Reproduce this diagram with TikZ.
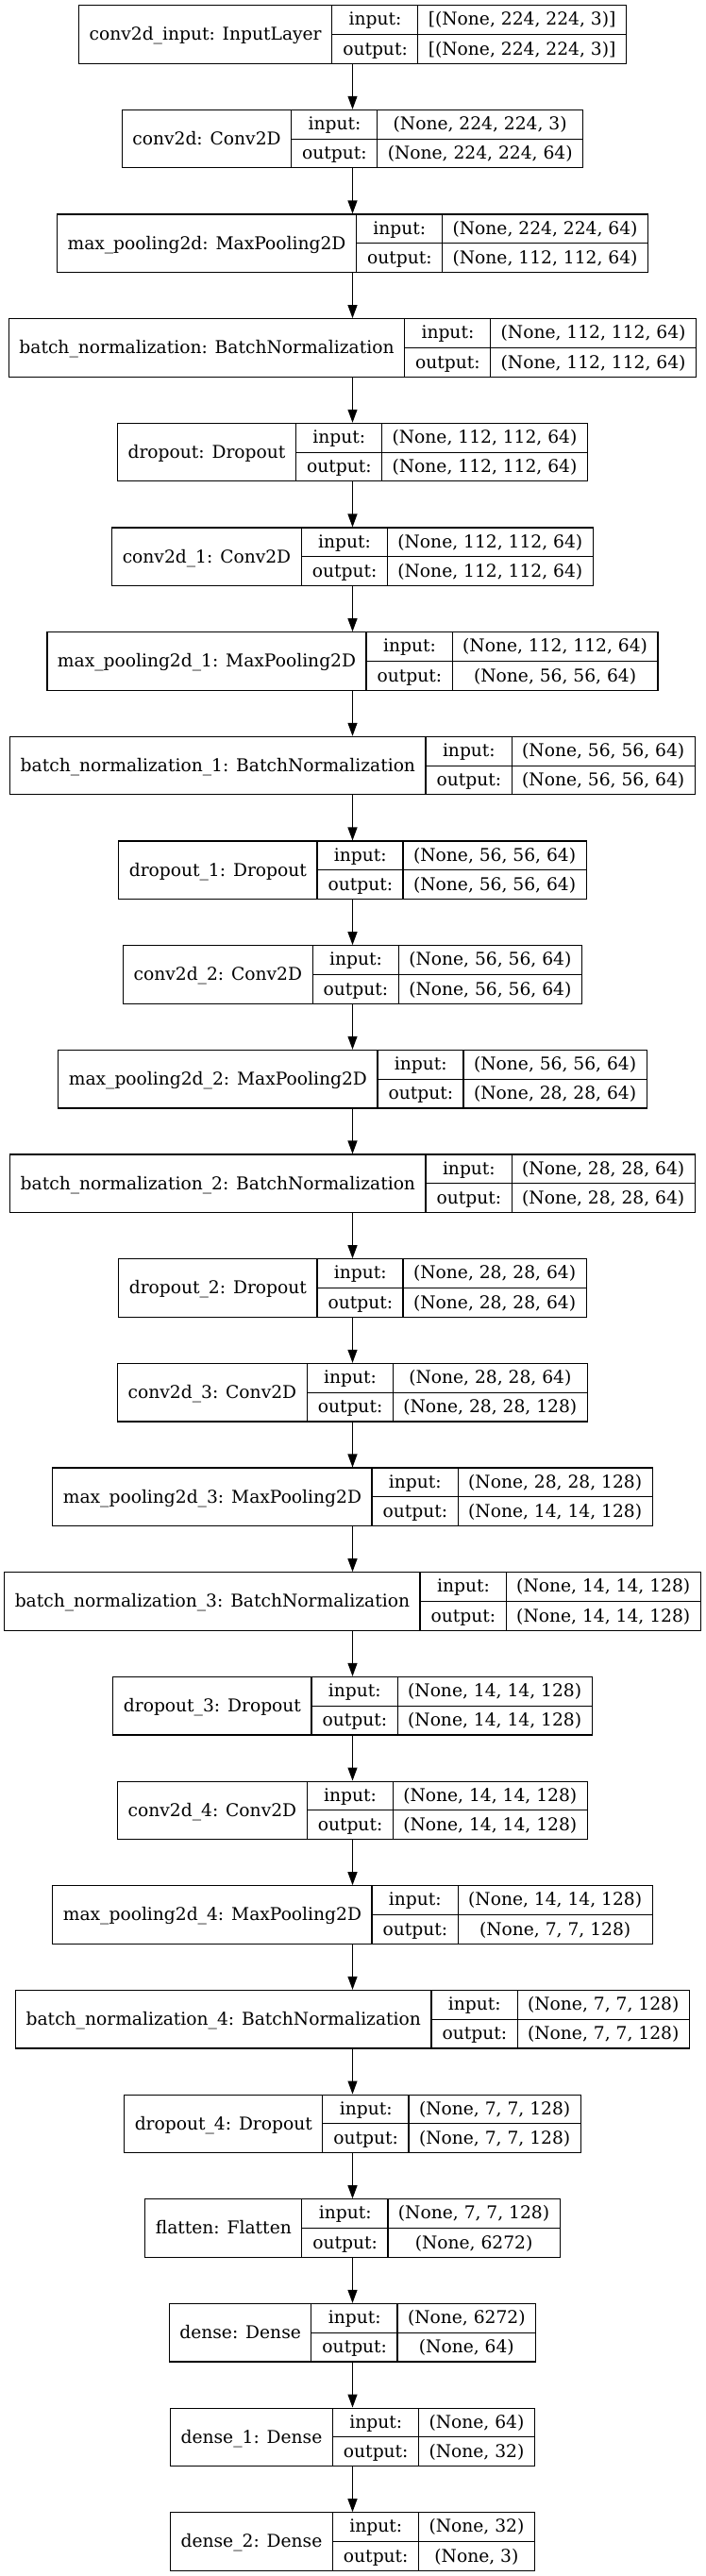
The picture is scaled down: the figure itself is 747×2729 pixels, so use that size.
\documentclass[tikz,border=0pt]{standalone}
\usepackage{fontspec}
\setmainfont{DejaVu Serif}
\usetikzlibrary{arrows.meta}

\setlength{\arrayrulewidth}{1.2pt}
\setlength{\tabcolsep}{11pt}
\renewcommand{\arraystretch}{1.346}

% one layer: name | input/output | shapes
\newcommand{\layerbox}[3]{%
    \begin{tabular}{c|@{}c@{}}
        \raisebox{-2pt}{#1} &
        \begin{tabular}{c|c}
            input: & #2 \\ \hline
            output: & #3
        \end{tabular}
    \end{tabular}}

\tikzset{
    layer/.style={draw, line width=1.2pt, inner sep=0pt, anchor=center,
        font=\fontsize{18.67pt}{22.4pt}\selectfont},
    flow/.style={-{Triangle[length=14pt, width=10pt]}, line width=1.2pt}
}

\begin{document}
\begin{tikzpicture}[x=1pt, y=1pt]
        \useasboundingbox (0, 0) rectangle (747, -2729);

        \foreach \nm/\ii/\oo[count=\k] in {
            {conv2d\_input: InputLayer}/{[(None, 224, 224, 3)]}/{[(None, 224, 224, 3)]},
            {conv2d: Conv2D}/{(None, 224, 224, 3)}/{(None, 224, 224, 64)},
            {max\_pooling2d: MaxPooling2D}/{(None, 224, 224, 64)}/{(None, 112, 112, 64)},
            {batch\_normalization: BatchNormalization}/{(None, 112, 112, 64)}/{(None, 112, 112, 64)},
            {dropout: Dropout}/{(None, 112, 112, 64)}/{(None, 112, 112, 64)},
            {conv2d\_1: Conv2D}/{(None, 112, 112, 64)}/{(None, 112, 112, 64)},
            {max\_pooling2d\_1: MaxPooling2D}/{(None, 112, 112, 64)}/{(None, 56, 56, 64)},
            {batch\_normalization\_1: BatchNormalization}/{(None, 56, 56, 64)}/{(None, 56, 56, 64)},
            {dropout\_1: Dropout}/{(None, 56, 56, 64)}/{(None, 56, 56, 64)},
            {conv2d\_2: Conv2D}/{(None, 56, 56, 64)}/{(None, 56, 56, 64)},
            {max\_pooling2d\_2: MaxPooling2D}/{(None, 56, 56, 64)}/{(None, 28, 28, 64)},
            {batch\_normalization\_2: BatchNormalization}/{(None, 28, 28, 64)}/{(None, 28, 28, 64)},
            {dropout\_2: Dropout}/{(None, 28, 28, 64)}/{(None, 28, 28, 64)},
            {conv2d\_3: Conv2D}/{(None, 28, 28, 64)}/{(None, 28, 28, 128)},
            {max\_pooling2d\_3: MaxPooling2D}/{(None, 28, 28, 128)}/{(None, 14, 14, 128)},
            {batch\_normalization\_3: BatchNormalization}/{(None, 14, 14, 128)}/{(None, 14, 14, 128)},
            {dropout\_3: Dropout}/{(None, 14, 14, 128)}/{(None, 14, 14, 128)},
            {conv2d\_4: Conv2D}/{(None, 14, 14, 128)}/{(None, 14, 14, 128)},
            {max\_pooling2d\_4: MaxPooling2D}/{(None, 14, 14, 128)}/{(None, 7, 7, 128)},
            {batch\_normalization\_4: BatchNormalization}/{(None, 7, 7, 128)}/{(None, 7, 7, 128)},
            {dropout\_4: Dropout}/{(None, 7, 7, 128)}/{(None, 7, 7, 128)},
            {flatten: Flatten}/{(None, 7, 7, 128)}/{(None, 6272)},
            {dense: Dense}/{(None, 6272)}/{(None, 64)},
            {dense\_1: Dense}/{(None, 64)}/{(None, 32)},
            {dense\_2: Dense}/{(None, 32)}/{(None, 3)}} {
            \node[layer] (l\k) at (373.5, {-36.45-(\k-1)*110.67}) {\layerbox{\nm}{\ii}{\oo}};
        }

        \foreach \k[evaluate=\k as \n using int(\k+1)] in {1, ..., 24} {
            \draw[flow] (l\k.south) -- (l\n.north);
        }
    \end{tikzpicture}
\end{document}
